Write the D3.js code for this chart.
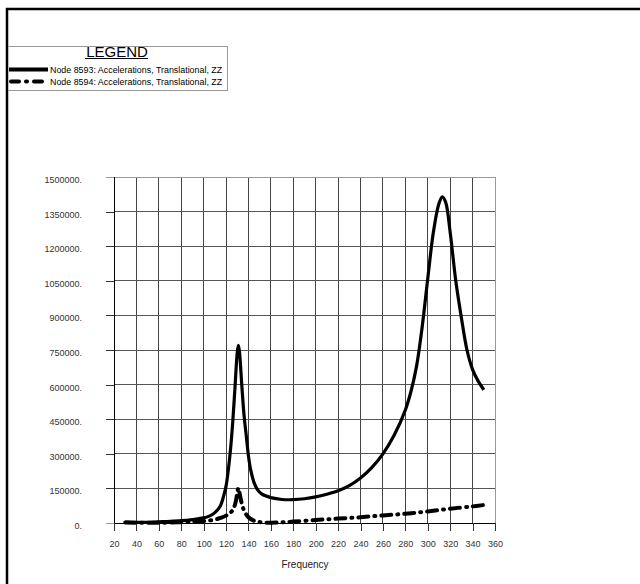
<!DOCTYPE html>
<html><head><meta charset="utf-8">
<script src="https://cdn.jsdelivr.net/npm/d3@7"></script>
<style>body{margin:0;background:#fff}svg{display:block}text{font-family:Arial,"Liberation Sans",sans-serif}</style>
</head><body><div id="c"></div>
<script>
const xTicks = [20,40,60,80,100,120,140,160,180,200,220,240,260,280,300,320,340,360];
const yTicks = [0,150000,300000,450000,600000,750000,900000,1050000,1200000,1350000,1500000];
const yTickLabels = ["0.","150000.","300000.","450000.","600000.","750000.","900000.","1050000.","1200000.","1350000.","1500000."];
const xLabel = "Frequency";
const legendTitle = "LEGEND";
const seriesNames = ["Node 8593: Accelerations, Translational, ZZ","Node 8594: Accelerations, Translational, ZZ"];

const freq8593 = [30,40,50,60,70,80,90,100,105,110,115,118,120,122,124,126,128,130,131,132,134,136,138,140,142,145,148,152,160,170,180,190,200,210,220,230,240,250,260,270,280,285,290,295,300,305,310,313,316,320,325,330,335,340,345,350];
const val8593 = [4000,3000,3000,5000,7000,10000,15000,22000,30000,45000,75000,120000,160000,230000,320000,440000,590000,740000,770000,740000,600000,470000,380000,290000,230000,175000,145000,125000,110000,102000,101000,105000,113000,125000,140000,162000,195000,240000,300000,380000,490000,570000,680000,850000,1060000,1260000,1385000,1414000,1390000,1260000,1050000,890000,750000,665000,615000,577000];

const freq8594 = [30,50,70,90,100,110,115,120,125,128,130,131,132,134,136,140,145,150,160,170,180,200,220,240,260,280,300,320,340,350];
const val8594 = [2000,1000,2000,5000,8000,15000,22000,32000,50000,80000,130000,152000,130000,85000,55000,25000,10000,4000,1000,3000,6000,13000,19000,25000,33000,40000,50000,62000,72000,78000];

const W=640,H=584;
const svg=d3.select("#c").append("svg").attr("width",W).attr("height",H);
const x=d3.scaleLinear().domain([20,360]).range([114,495]);
const y=d3.scaleLinear().domain([0,1500000]).range([523,177]);

svg.append("path").attr("d","M7,584 V9 H640").attr("fill","none").attr("stroke","#000").attr("stroke-width",2.5);

const g=svg.append("g");
g.selectAll("line.vg").data(xTicks.slice(1,-1)).enter().append("line")
 .attr("x1",d=>x(d)).attr("x2",d=>x(d)).attr("y1",y(1500000)).attr("y2",y(0)).attr("stroke","#444").attr("stroke-width",1).attr("shape-rendering","crispEdges");
g.selectAll("line.hg").data(yTicks.slice(1,-1)).enter().append("line")
 .attr("x1",x(20)).attr("x2",x(360)).attr("y1",d=>y(d)).attr("y2",d=>y(d)).attr("stroke","#555").attr("stroke-width",1).attr("shape-rendering","crispEdges");
g.append("line").attr("x1",x(20)-8).attr("x2",x(360)).attr("y1",y(1500000)).attr("y2",y(1500000)).attr("stroke","#999").attr("shape-rendering","crispEdges");
g.append("line").attr("x1",x(360)).attr("x2",x(360)).attr("y1",y(1500000)).attr("y2",y(0)+8).attr("stroke","#999").attr("shape-rendering","crispEdges");

const ya=d3.axisLeft(y).tickValues(yTicks).tickSize(8).tickFormat((d,i)=>yTickLabels[i]);
const xa=d3.axisBottom(x).tickValues(xTicks).tickSize(8);
const yg=svg.append("g").attr("transform",`translate(${x(20)},0)`).call(ya);
const xg=svg.append("g").attr("transform",`translate(0,${y(0)})`).call(xa);
[yg,xg].forEach(a=>{a.select(".domain").attr("stroke","#000").attr("shape-rendering","crispEdges");
 a.selectAll(".tick line").attr("stroke","#333").attr("shape-rendering","crispEdges");
 a.selectAll("text").attr("font-size",9).attr("fill","#333").attr("font-family","Arial,'Liberation Sans',sans-serif");});
yg.select(".domain").attr("d",`M0,${y(0)}V${y(1500000)}`);
xg.select(".domain").attr("d",`M${x(20)},0H${x(360)}`);
yg.selectAll(".tick text").attr("x",-32).attr("dy","0.6em");
xg.selectAll(".tick text").attr("y",18);
yg.selectAll(".tick").filter(d=>d===1500000||d===0).select("line").attr("stroke","#999");

svg.append("text").attr("x",305).attr("y",568).attr("text-anchor","middle").attr("font-size",10).attr("fill","#222").text(xLabel);

const line=d3.line().x(d=>x(d[0])).y(d=>y(d[1])).curve(d3.curveCatmullRom.alpha(0.5));
svg.append("path").datum(freq8594.map((f,i)=>[f,val8594[i]])).attr("d",line).attr("fill","none").attr("stroke","#000").attr("stroke-width",4).attr("stroke-dasharray","10,6,1,6").attr("stroke-linecap","round");
svg.append("path").datum(freq8593.map((f,i)=>[f,val8593[i]])).attr("d",line).attr("fill","none").attr("stroke","#000").attr("stroke-width",3.2).attr("stroke-linejoin","round");

const lg=svg.append("g");
lg.append("path").attr("d","M8,46.5 H227.5 V90.5 H8").attr("fill","none").attr("stroke","#999").attr("shape-rendering","crispEdges");
lg.append("text").attr("x",117).attr("y",57).attr("text-anchor","middle").attr("font-size",15).attr("fill","#000").text(legendTitle);
lg.append("line").attr("x1",85).attr("x2",148).attr("y1",58.5).attr("y2",58.5).attr("stroke","#000").attr("stroke-width",1);
lg.append("line").attr("x1",9).attr("x2",48).attr("y1",69.5).attr("y2",69.5).attr("stroke","#000").attr("stroke-width",4);
lg.append("line").attr("x1",11).attr("x2",48).attr("y1",81.5).attr("y2",81.5).attr("stroke","#000").attr("stroke-width",4).attr("stroke-dasharray","8,7,1,7").attr("stroke-linecap","round");
lg.selectAll("text.s").data(seriesNames).enter().append("text").attr("x",50).attr("y",(d,i)=>72.5+i*12.3).attr("font-size",8.9).attr("fill","#000").text(d=>d);
</script></body></html>
